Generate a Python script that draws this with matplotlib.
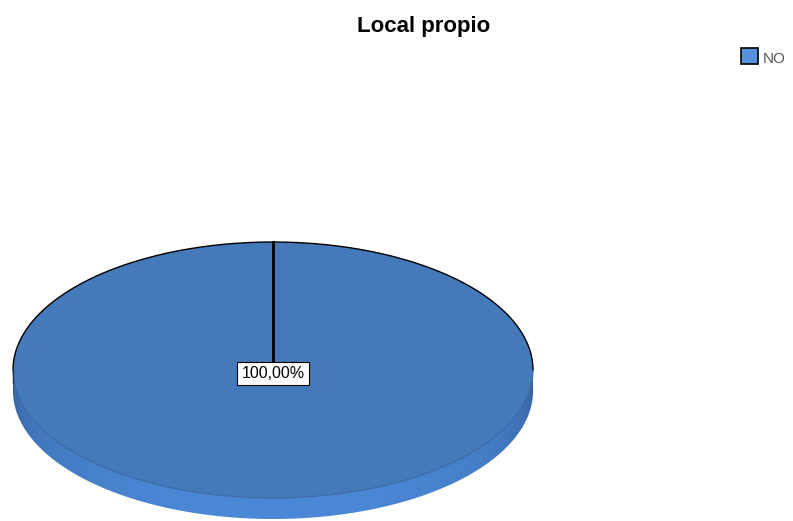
import numpy as np
import matplotlib.pyplot as plt
from matplotlib.transforms import Affine2D
from matplotlib.patches import Rectangle, Polygon

# Chart data
title = "Local propio"
categories = ["NO"]
values = [100.0]
labels = ["100,00%"]

W, H = 793, 521
fig = plt.figure(figsize=(W / 100, H / 100), dpi=100)
ax = fig.add_axes([0, 0, 1, 1])

cx, cy = 273, 370
rx, ry = 260, 128
depth = 21

# side of the 3D disc: gradient image clipped to the band below the top face
t = np.linspace(np.pi, 0, 200)
upper = np.column_stack([cx + rx * np.cos(t), cy + ry * np.sin(t)])
lower = upper[::-1] + [0, depth]
side = Polygon(np.vstack([upper, lower]), closed=True, facecolor="none", edgecolor="none")
ax.add_patch(side)

xx = np.linspace(cx - rx, cx + rx, 400)
f = np.sqrt(np.clip(1 - ((xx - cx) / rx) ** 2, 0, 1))
c0 = np.array([0x36, 0x60, 0x9a]) / 255
c1 = np.array([0x4b, 0x89, 0xd8]) / 255
grad = (c0[None, :] + (c1 - c0)[None, :] * f[:, None] ** 0.7)[None, :, :]
im = ax.imshow(grad, extent=(cx - rx, cx + rx, cy + ry + depth + 2, cy - 2),
               aspect="auto", interpolation="bilinear", zorder=1)
im.set_clip_path(side)

# top face via the pie routine, squashed into an ellipse
wedges, _ = ax.pie(values, startangle=90, counterclock=False, radius=1,
                   colors=["#4479ba"], wedgeprops=dict(edgecolor="none"))
tr = Affine2D().scale(rx, -ry).translate(cx, cy) + ax.transData
for w in wedges:
    w.set_transform(tr)
    w.set_zorder(2)

ax.set_xlim(0, W)
ax.set_ylim(H, 0)
ax.set_aspect("auto")
ax.axis("off")

# outline: black on the back half, dark blue along the front edge
a = np.linspace(0, np.pi, 200)
ax.plot(cx + rx * np.cos(a), cy - ry * np.sin(a), color="black", lw=1, zorder=3)
ax.plot(cx + rx * np.cos(a), cy + ry * np.sin(a), color="#3a66a2", lw=0.8, zorder=3)
ax.plot([cx - rx, cx - rx], [cy, cy + depth * 0.6], color="#22334d", lw=1, zorder=3)

# slice boundary line from the centre to the start angle
ax.plot([cx, cx], [cy, cy - ry], color="black", lw=2, zorder=5)

ax.text(cx, 378, labels[0], ha="center", va="baseline", fontsize=11.5,
        family="Liberation Sans", zorder=6,
        bbox=dict(boxstyle="square,pad=0.28", facecolor="white", edgecolor="black", lw=0.8))

ax.text(424, 32, title, ha="center", va="baseline", fontsize=16,
        fontweight="bold", family="Liberation Sans")

# legend
ax.add_patch(Rectangle((741, 47.5), 17, 16, facecolor="#5591dc", edgecolor="black", lw=1.2))
ax.text(763, 63, categories[0], ha="left", va="baseline", fontsize=11,
        family="Liberation Sans", color="#555555")

fig.savefig("out.png", dpi=100)
